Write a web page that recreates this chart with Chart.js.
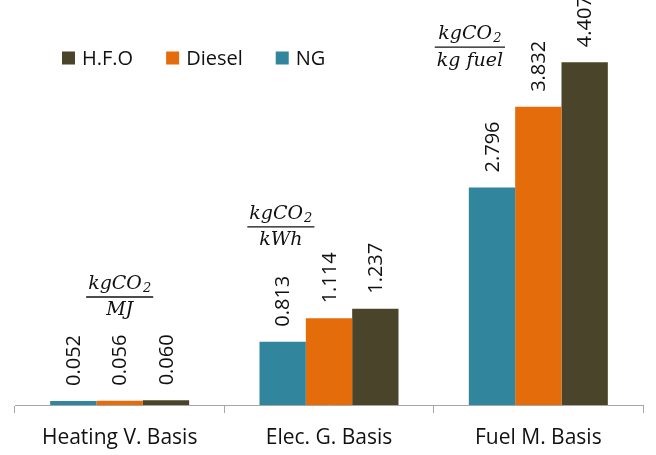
<!DOCTYPE html>
<html>
<head>
<meta charset="utf-8">
<script src="https://cdn.jsdelivr.net/npm/chart.js@4/dist/chart.umd.min.js"></script>
<style>
  html, body { margin: 0; padding: 0; background: #ffffff; }
  #wrap { width: 656px; height: 455px; }
</style>
</head>
<body>
<div id="wrap"><canvas id="c" width="656" height="455"></canvas></div>
<script>
// Emission factors per fuel, for three reference bases
const categories = ['Heating V. Basis', 'Elec. G. Basis', 'Fuel M. Basis'];
const seriesNames = ['NG', 'Diesel', 'H.F.O'];
const ngValues = [0.052, 0.813, 2.796];
const dieselValues = [0.056, 1.114, 3.832];
const hfoValues = [0.060, 1.237, 4.407];
// Unit shown above each group: numerator "kgCO" with subscript "2", over a denominator
const unitNumerator = 'kgCO';
const unitSubscript = '2';
const unitDenominators = ['MJ', 'kWh', 'kg fuel'];

const colors = ['#31859C', '#E46C0A', '#4A452A'];
const textColor = '#111111';
const sansFont = '"Open Sans", "Noto Sans", sans-serif';
const mathFont = '"DejaVu Serif", "Liberation Serif", serif';

// Where each unit fraction sits: x as category index offset, y as value of the fraction bar
const unitAnchors = [
  { dx: 0.0, y: 1.388 },
  { dx: -0.23, y: 2.29 },
  { dx: -0.327, y: 4.60 }
];

const valueLabels = {
  id: 'valueLabels',
  afterDatasetsDraw(chart) {
    const ctx = chart.ctx;
    ctx.save();
    ctx.font = '20px ' + sansFont;
    ctx.fillStyle = textColor;
    ctx.textAlign = 'left';
    ctx.textBaseline = 'middle';
    chart.data.datasets.forEach((ds, di) => {
      const meta = chart.getDatasetMeta(di);
      meta.data.forEach((bar, i) => {
        ctx.save();
        ctx.translate(bar.x, bar.y - 15);
        ctx.rotate(-Math.PI / 2);
        ctx.fillText(ds.data[i].toFixed(3), 0, 1);
        ctx.restore();
      });
    });
    ctx.restore();
  }
};

const unitLabels = {
  id: 'unitLabels',
  afterDatasetsDraw(chart) {
    const ctx = chart.ctx;
    const xs = chart.scales.x, ys = chart.scales.y;
    ctx.save();
    ctx.fillStyle = textColor;
    ctx.strokeStyle = textColor;
    unitDenominators.forEach((den, i) => {
      const a = unitAnchors[i];
      const step = xs.getPixelForValue(1) - xs.getPixelForValue(0);
      const cx = xs.getPixelForValue(i) + a.dx * step;
      const ly = ys.getPixelForValue(a.y);
      // numerator
      ctx.font = 'italic 19px ' + mathFont;
      const wMain = ctx.measureText(unitNumerator).width;
      ctx.font = 'italic 13px ' + mathFont;
      const wSub = ctx.measureText(unitSubscript).width;
      const wNum = wMain + wSub + 1;
      let x0 = cx - wNum / 2;
      ctx.textAlign = 'left';
      ctx.textBaseline = 'alphabetic';
      ctx.font = 'italic 19px ' + mathFont;
      ctx.fillText(unitNumerator, x0, ly - 8);
      ctx.font = 'italic 13px ' + mathFont;
      ctx.fillText(unitSubscript, x0 + wMain + 1, ly - 5);
      // denominator
      ctx.font = 'italic 19px ' + mathFont;
      const wDen = ctx.measureText(den).width;
      ctx.textAlign = 'center';
      ctx.textBaseline = 'top';
      ctx.fillText(den, cx, ly + 4);
      // fraction bar
      const half = Math.max(wNum, wDen) / 2 + 2;
      ctx.lineWidth = 1.3;
      ctx.beginPath();
      ctx.moveTo(cx - half, ly);
      ctx.lineTo(cx + half, ly);
      ctx.stroke();
    });
    ctx.restore();
  }
};

// Legend inside the plot, listed from H.F.O to NG
const insideLegend = {
  id: 'insideLegend',
  afterDraw(chart) {
    const ctx = chart.ctx;
    ctx.save();
    ctx.font = '20px ' + sansFont;
    ctx.textBaseline = 'middle';
    ctx.textAlign = 'left';
    let x = 62;
    const y = 58;
    [2, 1, 0].forEach((di) => {
      const ds = chart.data.datasets[di];
      ctx.fillStyle = ds.backgroundColor;
      ctx.fillRect(x, y - 6.5, 13, 13);
      ctx.fillStyle = textColor;
      ctx.fillText(ds.label, x + 20, y + 1);
      x += 20 + ctx.measureText(ds.label).width + 33;
    });
    ctx.restore();
  }
};

new Chart(document.getElementById('c'), {
  type: 'bar',
  data: {
    labels: categories,
    datasets: [
      { label: seriesNames[0], data: ngValues, backgroundColor: colors[0] },
      { label: seriesNames[1], data: dieselValues, backgroundColor: colors[1] },
      { label: seriesNames[2], data: hfoValues, backgroundColor: colors[2] }
    ]
  },
  options: {
    responsive: false,
    animation: false,
    devicePixelRatio: 1,
    layout: { padding: { left: 15, right: 13, top: 16, bottom: 0 } },
    datasets: { bar: { categoryPercentage: 0.664, barPercentage: 1.0, borderWidth: 0 } },
    plugins: {
      legend: { display: false },
      tooltip: { enabled: false }
    },
    scales: {
      x: {
        offset: true,
        grid: {
          offset: true,
          drawOnChartArea: false,
          drawTicks: true,
          tickLength: 8,
          color: '#a6a6a6',
          lineWidth: 1
        },
        border: { display: true, color: '#a6a6a6', width: 1 },
        ticks: {
          color: textColor,
          font: { family: sansFont, size: 21 },
          padding: 12,
          maxRotation: 0
        },
        afterFit(scale) { scale.height = 50; }
      },
      y: {
        display: false,
        min: 0,
        max: 5
      }
    }
  },
  plugins: [valueLabels, unitLabels, insideLegend]
});
</script>
</body>
</html>
